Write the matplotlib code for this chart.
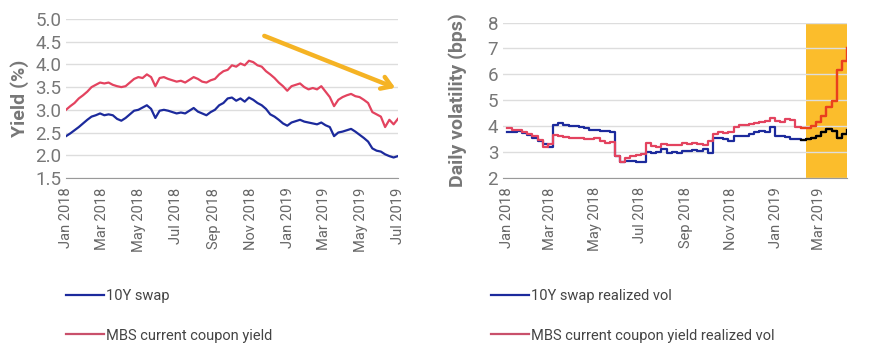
import pandas as pd
import matplotlib
matplotlib.use("Agg")
import matplotlib.pyplot as plt
import matplotlib.dates as mdates
from matplotlib.ticker import FormatStrFormatter

# weekly readings, Jan 2018 - Jul 2019
yield_dates = pd.date_range("2018-01-01", periods=79, freq="7D")
swap_yield = [2.42, 2.48, 2.55, 2.62, 2.70, 2.78, 2.85, 2.88, 2.92, 2.88,
              2.90, 2.88, 2.80, 2.76, 2.82, 2.90, 2.98, 3.00, 3.05, 3.10,
              3.02, 2.82, 2.98, 3.00, 2.98, 2.95, 2.92, 2.94, 2.92, 2.98,
              3.04, 2.96, 2.92, 2.88, 2.95, 3.00, 3.10, 3.15, 3.25, 3.27,
              3.20, 3.25, 3.18, 3.27, 3.22, 3.15, 3.10, 3.02, 2.90, 2.85,
              2.78, 2.70, 2.65, 2.72, 2.75, 2.78, 2.74, 2.72, 2.70, 2.68,
              2.72, 2.66, 2.62, 2.42, 2.50, 2.52, 2.55, 2.58, 2.52, 2.45,
              2.38, 2.30, 2.15, 2.10, 2.08, 2.02, 1.98, 1.95, 1.98]
mbs_yield = [3.00, 3.08, 3.15, 3.25, 3.32, 3.40, 3.50, 3.55, 3.60, 3.58,
             3.60, 3.55, 3.52, 3.50, 3.52, 3.60, 3.68, 3.72, 3.70, 3.78,
             3.72, 3.52, 3.70, 3.72, 3.68, 3.65, 3.62, 3.64, 3.60, 3.66,
             3.72, 3.68, 3.62, 3.60, 3.65, 3.68, 3.78, 3.85, 3.88, 3.98,
             3.95, 4.02, 3.98, 4.08, 4.05, 3.98, 3.95, 3.85, 3.78, 3.70,
             3.60, 3.52, 3.42, 3.52, 3.55, 3.58, 3.50, 3.45, 3.48, 3.45,
             3.52, 3.40, 3.28, 3.08, 3.22, 3.28, 3.32, 3.35, 3.30, 3.28,
             3.22, 3.15, 2.95, 2.90, 2.85, 2.62, 2.78, 2.68, 2.80]

# weekly realized vol, Jan 2018 - Apr 2019
vol_dates = pd.date_range("2018-01-01", periods=67, freq="7D")
swap_vol = [3.76, 3.78, 3.80, 3.72, 3.65, 3.55, 3.40, 3.30, 3.18, 4.05,
            4.12, 4.02, 4.00, 3.98, 3.95, 3.90, 3.85, 3.85, 3.80, 3.80,
            3.78, 2.85, 2.62, 2.65, 2.65, 2.62, 2.60, 3.00, 2.95, 3.00,
            3.10, 2.95, 2.98, 2.95, 3.02, 3.02, 3.05, 3.02, 3.10, 2.95,
            3.55, 3.52, 3.50, 3.42, 3.60, 3.62, 3.62, 3.68, 3.75, 3.80,
            3.78, 3.95, 3.60, 3.62, 3.58, 3.50, 3.48, 3.45, 3.50, 3.55,
            3.60, 3.75, 3.88, 3.82, 3.55, 3.70, 3.85]
mbs_vol = [3.90, 3.85, 3.85, 3.78, 3.70, 3.60, 3.45, 3.20, 3.30, 3.65,
           3.62, 3.58, 3.55, 3.55, 3.55, 3.50, 3.48, 3.52, 3.42, 3.35,
           3.38, 2.85, 2.62, 2.75, 2.85, 2.88, 2.90, 3.35, 3.22, 3.20,
           3.28, 3.25, 3.25, 3.25, 3.35, 3.30, 3.32, 3.28, 3.25, 3.40,
           3.70, 3.75, 3.72, 3.78, 3.95, 4.02, 4.05, 4.08, 4.12, 4.15,
           4.18, 4.30, 4.18, 4.15, 4.25, 4.22, 3.95, 3.90, 3.90, 4.00,
           4.15, 4.40, 4.75, 4.95, 6.15, 6.50, 7.00]
band_start = pd.Timestamp("2019-02-11")

BLUE = "#1c2a9c"
RED = "#e3435f"
GRAY = "#777777"

plt.rcParams["font.family"] = ["Roboto", "DejaVu Sans"]

fig = plt.figure(figsize=(8.71, 3.58), dpi=100)
ax1 = fig.add_axes([0.0758, 0.503, 0.381, 0.444])
ax2 = fig.add_axes([0.5775, 0.504, 0.395, 0.433])


def style_axis(ax):
    for s in ["top", "right", "left"]:
        ax.spines[s].set_visible(False)
    ax.spines["bottom"].set_color("#999999")
    ax.set_axisbelow(True)
    ax.yaxis.grid(True, color="#dddddd", lw=1)
    ax.tick_params(length=0, colors=GRAY, labelsize=13.5)
    ax.tick_params(axis="x", labelsize=10.5, rotation=90, pad=7, colors="#666666")
    ax.xaxis.set_major_locator(mdates.MonthLocator(bymonth=[1, 3, 5, 7, 9, 11]))
    ax.xaxis.set_major_formatter(mdates.DateFormatter("%b %Y"))


# left panel: yields
l1, = ax1.plot(yield_dates, swap_yield, color=BLUE, lw=1.6)
l2, = ax1.plot(yield_dates, mbs_yield, color=RED, lw=1.6)
ax1.set_ylim(1.5, 5.0)
ax1.set_yticks([1.5, 2.0, 2.5, 3.0, 3.5, 4.0, 4.5, 5.0])
ax1.yaxis.set_major_formatter(FormatStrFormatter("%.1f"))
ax1.set_xlim(yield_dates[0], yield_dates[-1])
style_axis(ax1)
ax1.set_ylabel("Yield (%)", color=GRAY, fontsize=14, fontweight="bold", labelpad=4)
ax1.annotate("", xy=(pd.Timestamp("2019-07-01"), 3.46),
             xytext=(pd.Timestamp("2018-11-19"), 4.65),
             arrowprops=dict(arrowstyle="->, head_length=0.7, head_width=0.45",
                             color="#f5b324", lw=3.2))

# right panel: realized vol
r1, = ax2.plot(vol_dates, swap_vol, color=BLUE, lw=1.6, drawstyle="steps-post")
r2, = ax2.plot(vol_dates, mbs_vol, color=RED, lw=1.6, drawstyle="steps-post")
hi = vol_dates >= band_start
hi_idx = [i for i in range(len(vol_dates)) if hi[i]]
seg = slice(hi_idx[0] - 1, None)
ax2.plot(vol_dates[seg], swap_vol[seg], color="black", lw=1.6, drawstyle="steps-post", zorder=3)
ax2.plot(vol_dates[seg], mbs_vol[seg], color="#ea3f1c", lw=1.6, drawstyle="steps-post", zorder=3)
ax2.axvspan(vol_dates[hi_idx[0]], vol_dates[-1], color="#fbbd2c", lw=0, zorder=0.2)
ax2.set_ylim(2, 8)
ax2.set_yticks(range(2, 9))
ax2.set_xlim(vol_dates[0] - pd.Timedelta(days=5), vol_dates[-1])
style_axis(ax2)
ax2.set_ylabel("Daily volatility (bps)", color=GRAY, fontsize=14, fontweight="bold", labelpad=15)

leg_font = {"family": ["Roboto", "DejaVu Sans"], "size": 10.5}
for x0, handles, labels in [
    (0.069, [l1, l2], ["10Y swap", "MBS current coupon yield"]),
    (0.557, [r1, r2], ["10Y swap realized vol", "MBS current coupon yield realized vol"]),
]:
    leg = fig.legend(handles, labels, loc="upper left", bbox_to_anchor=(x0, 0.209),
                     frameon=False, handlelength=2.6, handletextpad=0.15,
                     labelspacing=1.75, prop=leg_font, borderaxespad=0)
    for t in leg.get_texts():
        t.set_color("#444444")
    leg.legend_handles[1].set_color("#c9506b")

fig.savefig("out.png", dpi=100)
